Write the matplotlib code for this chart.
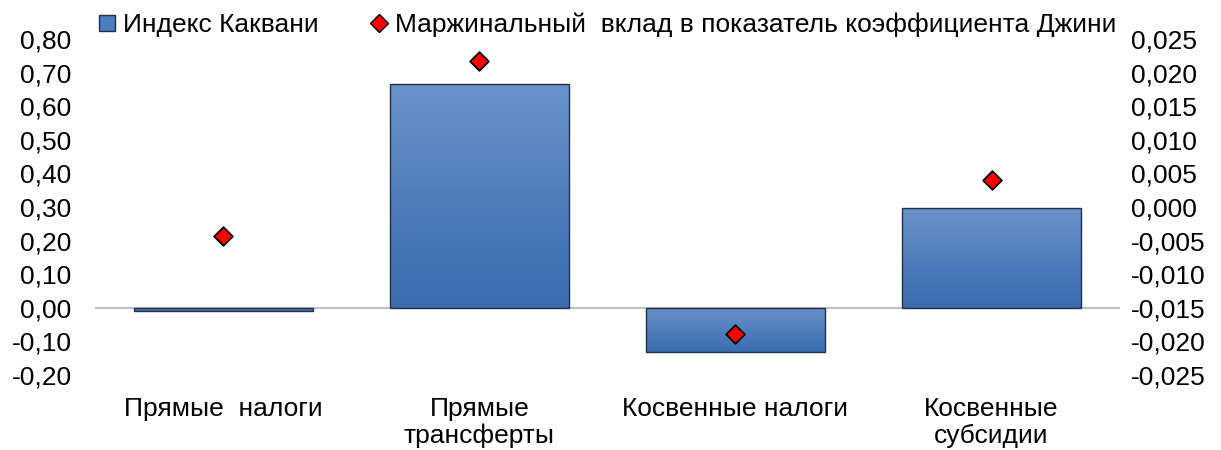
import matplotlib.pyplot as plt
import numpy as np
from matplotlib.lines import Line2D
from matplotlib.colors import LinearSegmentedColormap

plt.rcParams['font.family'] = ['Liberation Sans', 'DejaVu Sans']

categories = ['Прямые  налоги', 'Прямые\nтрансферты', 'Косвенные налоги', 'Косвенные\nсубсидии']
kakwani = [-0.011, 0.665, -0.131, 0.297]
gini_contrib = [-0.0043, 0.0217, -0.0189, 0.0040]

fig = plt.figure(figsize=(12.21, 4.5), dpi=100)
ax = fig.add_axes([0.078, 0.1667, 0.839, 0.7466])
ax2 = ax.twinx()

x = np.arange(len(categories))
bars = ax.bar(x, kakwani, width=0.7, color='#4A7EBF', edgecolor='#1F2F45', linewidth=1.0, zorder=2)

# вертикальный градиент внутри столбцов
grad = np.linspace(0, 1, 256).reshape(-1, 1)
cmap = LinearSegmentedColormap.from_list('bar', ['#3A6CAE', '#6A92CA'])
for b in bars:
    x0, y0 = b.get_x(), b.get_y()
    w, h = b.get_width(), b.get_height()
    y_lo, y_hi = min(y0, y0 + h), max(y0, y0 + h)
    im = ax.imshow(grad, extent=[x0, x0 + w, y_lo, y_hi], origin='lower', cmap=cmap,
                   aspect='auto', zorder=2.5)
    im.set_clip_path(b)
    b.set_facecolor('none')
    b.set_zorder(3)

ax.axhline(0, color='#BFBFBF', linewidth=1.5, zorder=1)

ax.set_xlim(-0.5, len(categories) - 0.5)
ax.set_ylim(-0.20, 0.80)
ticks1 = np.arange(-0.2, 0.81, 0.1)
ax.set_yticks(ticks1)
ax.set_yticklabels([f'{v:.2f}'.replace('.', ',').replace('-0,00', '0,00') for v in ticks1])

ax2.scatter(x, gini_contrib, marker='D', s=90, color='#FF0000', edgecolor='black', linewidth=1.3, zorder=5)
ax2.set_ylim(-0.025, 0.025)
ticks2 = np.arange(-0.025, 0.0251, 0.005)
ax2.set_yticks(ticks2)
ax2.set_yticklabels([f'{v:.3f}'.replace('.', ',').replace('-0,000', '0,000') for v in ticks2])

ax.set_zorder(ax2.get_zorder() - 1)
ax2.patch.set_visible(False)

ax.set_xticks(x)
ax.set_xticklabels(categories, fontsize=19, linespacing=1.12)
ax.tick_params(axis='x', length=0, pad=16)
ax.tick_params(axis='y', length=0, labelsize=19, pad=17)
ax2.tick_params(axis='y', length=0, labelsize=19, pad=8)

for a in (ax, ax2):
    for s in a.spines.values():
        s.set_visible(False)

handles = [
    Line2D([], [], marker='s', linestyle='none', markersize=11, markerfacecolor='#4A7EBF',
           markeredgecolor='#1F2F45', label='Индекс Каквани'),
    Line2D([], [], marker='D', linestyle='none', markersize=9, markerfacecolor='#FF0000',
           markeredgecolor='black', label='Маржинальный  вклад в показатель коэффициента Джини'),
]
fig.legend(handles=handles, loc='center left', bbox_to_anchor=(0.077, 0.944), ncol=2,
           frameon=False, fontsize=19, handletextpad=0.1, columnspacing=1.8, handlelength=1.0,
           borderaxespad=0, borderpad=0)

fig.savefig('out.png', dpi=100)
